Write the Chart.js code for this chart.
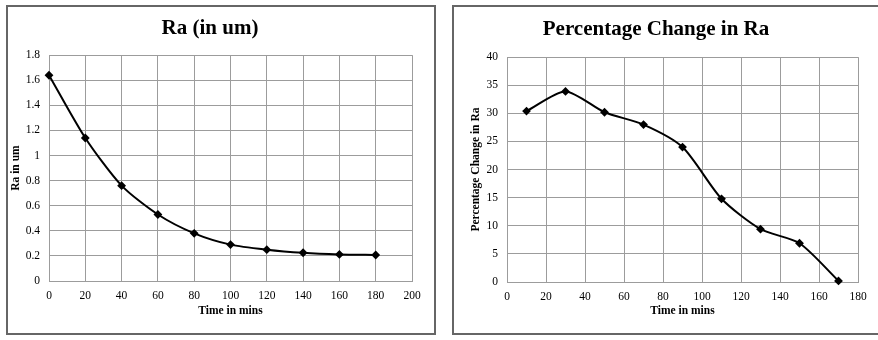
<!DOCTYPE html>
<html>
<head>
<meta charset="utf-8">
<script src="https://cdn.jsdelivr.net/npm/chart.js@4"></script>
<style>
  body { margin: 0; background: #fff; width: 878px; height: 340px; position: relative; overflow: hidden; }
  .panel { position: absolute; border: 2px solid #666; box-sizing: border-box; }
  canvas { position: absolute; }
</style>
</head>
<body>
<div class="panel" style="left:6px; top:5px; width:430px; height:330px;"></div>
<div class="panel" style="left:452px; top:5px; width:440px; height:330px;"></div>
<canvas id="raChart" style="left:8px; top:7px;" width="425" height="326"></canvas>
<canvas id="pctChart" style="left:454px; top:7px;" width="424" height="326"></canvas>

<script>
/* ================= DATA ================= */

const raTimes = [0, 20, 40, 60, 80, 100, 120, 140, 160, 180];
const raValues = [1.64, 1.14, 0.76, 0.53, 0.38, 0.29, 0.25, 0.225, 0.212, 0.207];

const pctTimes = [10, 30, 50, 70, 90, 110, 130, 150, 170];
const pctValues = [30.4, 33.9, 30.2, 28.0, 24.0, 14.8, 9.4, 6.9, 0.2];

/* ================= SHARED STYLE ================= */

const SERIF = "'Liberation Serif', 'Times New Roman', serif";
const GRID = "#9c9c9c";

function points(xs, ys) {
  return xs.map((x, i) => ({ x, y: ys[i] }));
}

function makeChart(id, cfg) {
  return new Chart(document.getElementById(id), {
    type: "line",
    data: {
      datasets: [{
        data: points(cfg.xs, cfg.ys),
        borderColor: "#000",
        backgroundColor: "#000",
        borderWidth: 2,
        tension: 0.25,
        pointStyle: "rectRot",
        pointRadius: 3,
        clip: false,
      }],
    },
    options: {
      responsive: false,
      animation: false,
      layout: { padding: { left: 0, top: 0, right: cfg.right, bottom: 0 } },
      plugins: {
        legend: { display: false },
        tooltip: { enabled: false },
        title: {
          display: true,
          text: cfg.title,
          color: "#000",
          font: { family: SERIF, size: 21, weight: "bold", lineHeight: 1.15 },
          padding: { top: cfg.titleTop, bottom: cfg.plotTop - cfg.titleTop - 24 },
        },
      },
      scales: {
        x: {
          type: "linear",
          min: cfg.xMin,
          max: cfg.xMax,
          ticks: { stepSize: 20, padding: 8, color: "#000", font: { family: SERIF, size: 11.5 } },
          grid: { color: GRID, drawTicks: false },
          border: { color: GRID },
          title: {
            display: true,
            text: "Time in mins",
            color: "#000",
            font: { family: SERIF, size: 11.5, weight: "bold" },
            padding: { top: 0, bottom: 15 },
          },
          afterFit: s => { s.height = cfg.xHeight; },
        },
        y: {
          min: 0,
          max: cfg.yMax,
          ticks: {
            stepSize: cfg.yStep,
            padding: 9,
            color: "#000",
            font: { family: SERIF, size: 11.5 },
            callback: v => String(Number(v.toFixed(1))),
          },
          grid: { color: GRID, drawTicks: false },
          border: { color: GRID },
          title: {
            display: true,
            text: cfg.yTitle,
            color: "#000",
            font: { family: SERIF, size: 11.5, weight: "bold" },
            padding: { top: cfg.yTitlePad, bottom: 0 },
          },
          afterFit: s => { s.width = cfg.yWidth; },
        },
      },
    },
  });
}

/* ================= CHARTS ================= */

makeChart("raChart", {
  xs: raTimes, ys: raValues,
  title: "Ra (in um)",
  yTitle: "Ra in um",
  xMin: 0, xMax: 200,
  yMax: 1.8, yStep: 0.2,
  right: 21, titleTop: 10, plotTop: 48,
  xHeight: 52, yWidth: 41, yTitlePad: 1,
});

makeChart("pctChart", {
  xs: pctTimes, ys: pctValues,
  title: "Percentage Change in Ra",
  yTitle: "Percentage Change in Ra",
  xMin: 0, xMax: 180,
  yMax: 40, yStep: 5,
  right: 20, titleTop: 11, plotTop: 50,
  xHeight: 51, yWidth: 53, yTitlePad: 15,
});
</script>
</body>
</html>
